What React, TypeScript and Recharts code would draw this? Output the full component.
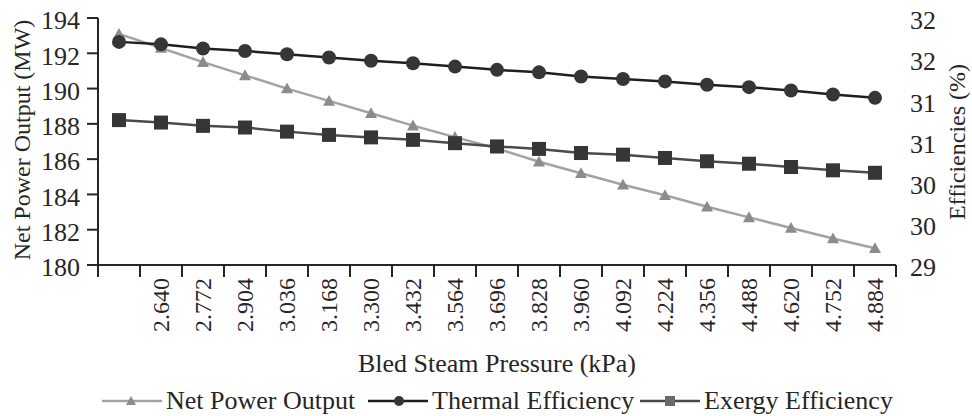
import React from 'react';
import { LineChart, Line, XAxis, YAxis } from 'recharts';

const pressure = ['', '2.640', '2.772', '2.904', '3.036', '3.168', '3.300', '3.432', '3.564', '3.696', '3.828', '3.960', '4.092', '4.224', '4.356', '4.488', '4.620', '4.752', '4.884'];
const netPower = [193.1, 192.3, 191.5, 190.75, 190.0, 189.3, 188.6, 187.9, 187.25, 186.6, 185.85, 185.2, 184.55, 183.95, 183.3, 182.7, 182.1, 181.5, 180.95];
const thermalEff = [31.71, 31.68, 31.63, 31.6, 31.56, 31.52, 31.48, 31.45, 31.41, 31.37, 31.34, 31.29, 31.26, 31.23, 31.19, 31.16, 31.12, 31.07, 31.03];
const exergyEff = [30.76, 30.73, 30.69, 30.67, 30.62, 30.58, 30.55, 30.52, 30.48, 30.44, 30.41, 30.36, 30.34, 30.3, 30.26, 30.23, 30.19, 30.15, 30.12];
const leftTicks = [180, 182, 184, 186, 188, 190, 192, 194];
const rightTicks = [29, 29.5, 30, 30.5, 31, 31.5, 32];

const data = pressure.map((p, i) => ({
  pressure: p,
  net: netPower[i],
  thermal: thermalEff[i],
  exergy: exergyEff[i],
}));

const FONT = '"Times New Roman", Times, Tinos, "Liberation Serif", "Noto Serif", "DejaVu Serif", serif';
const INK = '#262626';
const HALF = 21; // half a category step

const NET_LINE = '#a3a3a3';
const NET_MARK = '#8c8c8c';
const TH_LINE = '#1f1f1f';
const EX_LINE = '#4a4a4a';
const MARK = '#363636';

function XTick(props: any) {
  const { x, y, payload, index } = props;
  const axisY = y - 13;
  return (
    <g>
      <line x1={x - HALF} y1={axisY} x2={x - HALF} y2={axisY + 12} stroke={INK} strokeWidth={2} />
      {index === pressure.length - 1 && (
        <line x1={x + HALF} y1={axisY} x2={x + HALF} y2={axisY + 12} stroke={INK} strokeWidth={2} />
      )}
      <text
        x={x}
        y={y}
        transform={`rotate(-90 ${x} ${y})`}
        textAnchor="end"
        dominantBaseline="central"
        fontSize={24}
        fontFamily={FONT}
        fill={INK}
      >
        {payload.value}
      </text>
    </g>
  );
}

const triangle = (cx: number, cy: number, s = 6) =>
  `M${cx},${cy - s} L${cx + s},${cy + s * 0.8} L${cx - s},${cy + s * 0.8} Z`;

function TriDot(props: any) {
  const { cx, cy } = props;
  return <path d={triangle(cx, cy)} fill={NET_MARK} />;
}

function CircleDot(props: any) {
  const { cx, cy } = props;
  return <circle cx={cx} cy={cy} r={7} fill={MARK} />;
}

function SquareDot(props: any) {
  const { cx, cy } = props;
  return <rect x={cx - 7} y={cy - 7} width={14} height={14} fill={MARK} />;
}

const legendItems = [
  { name: 'Net Power Output', left: 102, line: NET_LINE, mark: 'tri' },
  { name: 'Thermal Efficiency', left: 368, line: TH_LINE, mark: 'circle' },
  { name: 'Exergy Efficiency', left: 640, line: EX_LINE, mark: 'square' },
];

export default function App() {
  return (
    <div style={{ position: 'absolute', left: 0, top: 0, width: 972, height: 416, background: '#fff' }}>
      <LineChart width={972} height={416} data={data} margin={{ top: 18, right: 20, left: 0, bottom: 0 }}>
        <XAxis
          dataKey="pressure"
          scale="point"
          padding={{ left: HALF, right: HALF }}
          height={151}
          interval={0}
          tickLine={false}
          tickSize={12}
          tickMargin={1}
          axisLine={{ stroke: INK, strokeWidth: 2 }}
          tick={<XTick />}
          label={{
            content: () => (
              <text x={497} y={372} textAnchor="middle" fontSize={26} fontFamily={FONT} fill={INK}>
                Bled Steam Pressure (kPa)
              </text>
            ),
          }}
        />
        <YAxis
          yAxisId="left"
          width={98}
          domain={[180, 194]}
          ticks={leftTicks}
          interval={0}
          tickSize={11}
          tickMargin={7}
          tickLine={{ stroke: INK, strokeWidth: 2 }}
          axisLine={{ stroke: INK, strokeWidth: 2 }}
          tick={{ fontSize: 26, fontFamily: FONT, fill: INK, dy: 2 }}
          label={{
            content: () => (
              <text
                x={22}
                y={140}
                transform="rotate(-90 22 140)"
                textAnchor="middle"
                dominantBaseline="central"
                fontSize={24}
                fontFamily={FONT}
                fill={INK}
              >
                Net Power Output (MW)
              </text>
            ),
          }}
        />
        <YAxis
          yAxisId="right"
          orientation="right"
          width={56}
          domain={[29, 32]}
          ticks={rightTicks}
          interval={0}
          axisLine={false}
          tickLine={false}
          tickMargin={8}
          tickFormatter={(v: number) => String(Math.round(v))}
          tick={{ fontSize: 26, fontFamily: FONT, fill: INK, dy: 2 }}
          label={{
            content: () => (
              <text
                x={957}
                y={142}
                transform="rotate(-90 957 142)"
                textAnchor="middle"
                dominantBaseline="central"
                fontSize={24}
                fontFamily={FONT}
                fill={INK}
              >
                Efficiencies (%)
              </text>
            ),
          }}
        />
        <Line
          yAxisId="left"
          dataKey="net"
          stroke={NET_LINE}
          strokeWidth={2.5}
          dot={<TriDot />}
          activeDot={false}
          isAnimationActive={false}
        />
        <Line
          yAxisId="right"
          dataKey="exergy"
          stroke={EX_LINE}
          strokeWidth={2.5}
          dot={<SquareDot />}
          activeDot={false}
          isAnimationActive={false}
        />
        <Line
          yAxisId="right"
          dataKey="thermal"
          stroke={TH_LINE}
          strokeWidth={2.5}
          dot={<CircleDot />}
          activeDot={false}
          isAnimationActive={false}
        />
      </LineChart>
      {legendItems.map((it) => (
        <div
          key={it.name}
          style={{
            position: 'absolute',
            left: it.left,
            top: 386,
            height: 30,
            display: 'flex',
            alignItems: 'center',
            whiteSpace: 'nowrap',
          }}
        >
          <svg width={60} height={20} style={{ marginRight: 4 }}>
            <line x1={0} y1={10} x2={60} y2={10} stroke={it.line} strokeWidth={2.5} />
            {it.mark === 'tri' && <path d={triangle(29, 10, 5)} fill={NET_MARK} />}
            {it.mark === 'circle' && <circle cx={31} cy={10} r={5} fill={MARK} />}
            {it.mark === 'square' && <rect x={25} y={5} width={10} height={10} fill="#6a6a6a" />}
          </svg>
          <span style={{ fontSize: 26, fontFamily: FONT, color: INK }}>{it.name}</span>
        </div>
      ))}
    </div>
  );
}
